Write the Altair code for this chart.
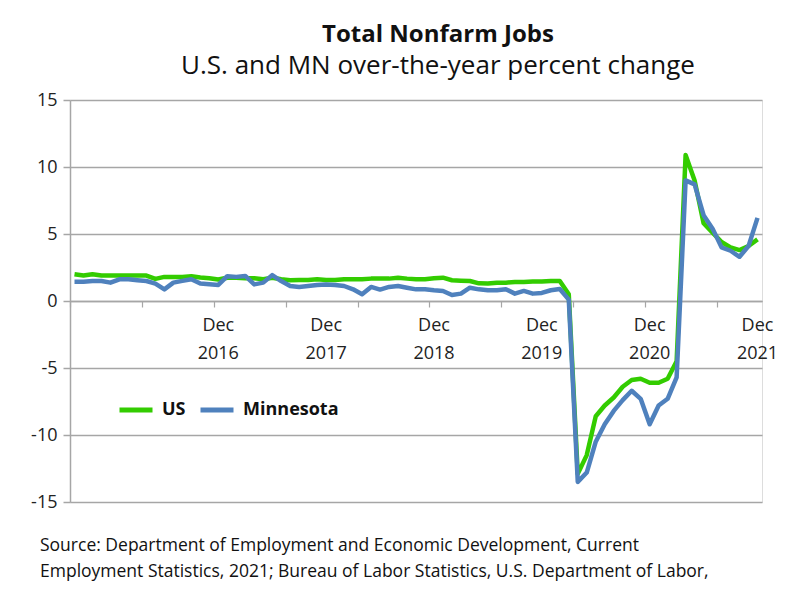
import altair as alt
import pandas as pd

# Monthly categories: Aug 2015 .. Dec 2021
MONTH_NAMES = ["Jan", "Feb", "Mar", "Apr", "May", "Jun", "Jul", "Aug", "Sep", "Oct", "Nov", "Dec"]
start_year, start_month = 2015, 8
n_months = 77
months = []
for k in range(n_months):
    m = (start_month - 1 + k) % 12
    y = start_year + (start_month - 1 + k) // 12
    months.append(f"{MONTH_NAMES[m]} {y}")

us = [2.0, 1.9, 2.0, 1.9, 1.9, 1.9, 1.9, 1.9, 1.9, 1.65, 1.8, 1.8, 1.8, 1.85, 1.75, 1.7, 1.6,
      1.74, 1.74, 1.7, 1.7, 1.62, 1.74, 1.62, 1.55, 1.56, 1.56, 1.62, 1.56,
      1.56, 1.62, 1.62, 1.62, 1.67, 1.67, 1.67, 1.74, 1.67, 1.62, 1.62, 1.7,
      1.74, 1.55, 1.52, 1.49, 1.32, 1.3, 1.37, 1.37, 1.42, 1.42, 1.45, 1.45,
      1.5, 1.5, 0.5, -12.9, -11.5, -8.6, -7.8, -7.2, -6.4, -5.9, -5.8, -6.1,
      -6.1, -5.8, -4.5, 10.9, 9.0, 5.8, 5.1, 4.4, 4.0, 3.8, 4.1, 4.6]

mn = [1.44, 1.44, 1.49, 1.49, 1.37, 1.62, 1.62, 1.55, 1.49, 1.3, 0.87, 1.37, 1.5, 1.62, 1.3, 1.25, 1.2,
      1.85, 1.8, 1.87, 1.24, 1.37, 1.93, 1.49, 1.12, 1.05, 1.12, 1.2, 1.24,
      1.2, 1.12, 0.87, 0.5, 1.05, 0.85, 1.05, 1.12, 0.99, 0.87, 0.87, 0.8,
      0.75, 0.45, 0.55, 0.99, 0.87, 0.8, 0.8, 0.87, 0.55, 0.75, 0.55, 0.6,
      0.8, 0.9, 0.1, -13.5, -12.8, -10.5, -9.2, -8.2, -7.4, -6.7, -7.3, -9.2,
      -7.8, -7.3, -5.7, 9.0, 8.7, 6.4, 5.4, 4.0, 3.75, 3.3, 4.1, 6.2]

series_names = ["US", "Minnesota"]
series_colors = ["#33cc00", "#4f81bd"]
y_ticks = [-15, -10, -5, 0, 5, 10, 15]
label_years = ["2016", "2017", "2018", "2019", "2020", "2021"]
source_text = ("Source: Department of Employment and Economic Development, Current\n"
               "Employment Statistics, 2021; Bureau of Labor Statistics, U.S. Department of Labor,")

FONT = "Open Sans"
W, H = 692, 402

idx = list(range(n_months))
df_us = pd.DataFrame({"i": idx, "month": months, "value": us, "series": "US"})
df_mn = pd.DataFrame({"i": idx, "month": months, "value": mn, "series": "Minnesota"})
dec_positions = [months.index(f"Dec {y}") for y in label_years]
df_lab = pd.DataFrame({"i": dec_positions, "label": [f"Dec\n{y}" for y in label_years]})
df_src = pd.DataFrame({"t": [source_text]})

x_scale = alt.Scale(domain=[-0.5, n_months - 0.5], nice=False, zero=False)
y_scale = alt.Scale(domain=[-15, 15], nice=False)
color_scale = alt.Scale(domain=series_names, range=series_colors)

x_axis = alt.Axis(values=[k - 0.5 for k in range(n_months + 1)], labels=False, title=None,
                  grid=False, domainColor="#a6a6a6", domainWidth=1.5, tickColor="#a6a6a6",
                  tickWidth=1.2, tickSize=6, offset=-H / 2)
y_axis = alt.Axis(values=y_ticks, title=None, grid=True, gridColor="#a6a6a6", gridWidth=1.5,
                  domainColor="#a6a6a6", domainWidth=1.5, tickColor="#a6a6a6", tickWidth=1.5,
                  tickSize=7, labelFontSize=18, labelFont=FONT, labelColor="#222222",
                  labelPadding=6, labelExpr="toString(datum.value)")

legend = alt.Legend(orient="none", legendX=47, legendY=291, direction="horizontal", title=None,
                    symbolType="stroke", symbolStrokeWidth=5, symbolSize=1089,
                    labelFontSize=18, labelFontWeight="bold", labelFont=FONT,
                    labelColor="#111111", labelOffset=7, columnPadding=4)

base_x = alt.X("i:Q", scale=x_scale, axis=x_axis)
base_y = alt.Y("value:Q", scale=y_scale, axis=y_axis)
color = alt.Color("series:N", scale=color_scale, legend=legend)

line_us = alt.Chart(df_us).mark_line(strokeWidth=4.5, strokeJoin="round").encode(
    x=base_x, y=base_y, color=color)
line_mn = alt.Chart(df_mn).mark_line(strokeWidth=4.5, strokeJoin="round").encode(
    x=base_x, y=base_y, color=color)

labels = alt.Chart(df_lab).mark_text(
    lineBreak="\n", baseline="top", align="center", dy=16, lineHeight=28,
    fontSize=18, font=FONT, color="#222222"
).encode(x=alt.X("i:Q", scale=x_scale), y=alt.datum(0), text="label:N")

source = alt.Chart(df_src).mark_text(
    lineBreak="\n", baseline="alphabetic", align="left", lineHeight=26,
    fontSize=17.5, font=FONT, color="#111111"
).encode(x=alt.value(-30), y=alt.value(451), text="t:N")

chart = alt.layer(line_us, line_mn, labels, source).properties(
    width=W, height=H,
    autosize=alt.AutoSizeParams(type="none"),
    padding={"left": 62, "top": 92, "right": 30, "bottom": 83},
    title=alt.Title("Total Nonfarm Jobs", subtitle="U.S. and MN over-the-year percent change",
                    font=FONT, fontSize=24, fontWeight="bold", color="#111111",
                    subtitleFont=FONT, subtitleFontSize=26, subtitleColor="#111111",
                    subtitlePadding=6, anchor="middle", dx=22, offset=12)
).configure_view(stroke=None).configure(background="white")

chart.save("out.html", embed_options={"renderer": "svg", "actions": False})
